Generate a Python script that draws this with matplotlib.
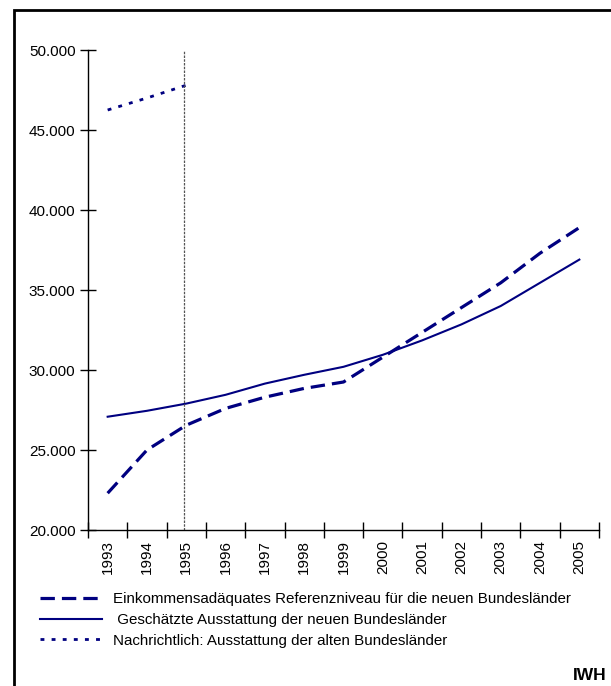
import matplotlib
matplotlib.use("Agg")
import matplotlib.pyplot as plt
from matplotlib.patches import Rectangle
from matplotlib.ticker import FixedLocator, FuncFormatter

plt.rcParams['font.family'] = ['Liberation Sans', 'DejaVu Sans']

years = ["1993", "1994", "1995", "1996", "1997", "1998", "1999",
         "2000", "2001", "2002", "2003", "2004", "2005"]
referenz = [22300, 25000, 26550, 27600, 28300, 28850, 29250,
            30800, 32350, 33900, 35450, 37300, 38900]
geschaetzt = [27080, 27450, 27900, 28450, 29150, 29700, 30200,
              30950, 31850, 32850, 34000, 35450, 36900]
alte = [46250, 47000, 47800]

labels = ["Einkommensadäquates Referenzniveau für die neuen Bundesländer",
          " Geschätzte Ausstattung der neuen Bundesländer",
          "Nachrichtlich: Ausstattung der alten Bundesländer"]

W, H = 611, 686
fig = plt.figure(figsize=(W / 100, H / 100), dpi=100)
ax = fig.add_axes([88 / W, 1 - 530 / H, (599 - 88) / W, (530 - 50) / H])

x = list(range(len(years)))
navy = "#000080"
l1, = ax.plot(x, referenz, color=navy, lw=2.3, dashes=(4.5, 2.2), label=labels[0])
l2, = ax.plot(x, geschaetzt, color=navy, lw=1.5, label=labels[1])
l3, = ax.plot(x[:len(alte)], alte, color=navy, lw=2.0, dashes=(1.4, 2.6), label=labels[2])

ax.axvline(1.95, color="#555555", lw=0.9, ls=(0, (2, 1)))

ax.set_xlim(-0.5, len(years) - 0.5)
ax.set_ylim(20000, 50000)
ax.set_yticks(range(20000, 50001, 5000))
ax.yaxis.set_major_formatter(FuncFormatter(lambda v, p: f"{int(v):,}".replace(",", ".")))

ax.xaxis.set_major_locator(FixedLocator([i - 0.5 for i in range(len(years) + 1)]))
ax.xaxis.set_minor_locator(FixedLocator(x))
ax.set_xticklabels([], minor=False)
ax.set_xticklabels(years, minor=True, rotation=90)
ax.tick_params(axis="x", which="minor", length=0, pad=7, labelsize=11)
ax.tick_params(axis="x", which="major", direction="inout", length=12, width=1)
ax.tick_params(axis="y", direction="inout", length=12, width=1, labelsize=11, pad=3)

for s in ["top", "right"]:
    ax.spines[s].set_visible(False)
for s in ["left", "bottom"]:
    ax.spines[s].set_linewidth(1.0)

leg = fig.legend(handles=[l1, l2, l3], labels=labels,
                 loc="upper left", bbox_to_anchor=(40 / W, 1 - 592 / H),
                 frameon=False, fontsize=10.9, handlelength=4.1,
                 handletextpad=0.7, labelspacing=0.45, borderpad=0, borderaxespad=0)

fig.text(607 / W, 1 - 676 / H, "IWH", ha="right", va="center",
         fontsize=12.5, fontweight="bold")

fig.add_artist(Rectangle((14 / W, -0.1), 1.2, 1 - 10 / H + 0.1,
                         transform=fig.transFigure, fill=False,
                         edgecolor="black", lw=2.0, clip_on=False))

fig.savefig("out.png", dpi=100)
